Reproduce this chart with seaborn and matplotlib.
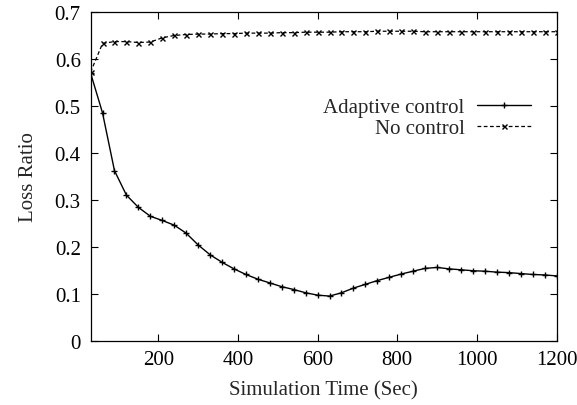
import matplotlib
matplotlib.use("Agg")
import matplotlib.pyplot as plt
import seaborn as sns
import pandas as pd

time_sec = list(range(30, 1201, 30))
adaptive = [0.570, 0.485, 0.362, 0.310, 0.284, 0.265, 0.256, 0.246, 0.229, 0.204,
            0.183, 0.167, 0.153, 0.141, 0.131, 0.123, 0.115, 0.109, 0.102, 0.097,
            0.095, 0.102, 0.112, 0.120, 0.128, 0.135, 0.142, 0.148, 0.154, 0.156,
            0.153, 0.151, 0.149, 0.148, 0.146, 0.145, 0.143, 0.141, 0.140, 0.138]
no_control = [0.572, 0.633, 0.637, 0.637, 0.635, 0.636, 0.645, 0.650, 0.652, 0.653,
              0.653, 0.654, 0.654, 0.655, 0.655, 0.655, 0.656, 0.656, 0.657, 0.657,
              0.657, 0.658, 0.658, 0.658, 0.659, 0.659, 0.659, 0.659, 0.658, 0.658,
              0.658, 0.658, 0.658, 0.658, 0.658, 0.658, 0.658, 0.658, 0.658, 0.658]
series_names = ["Adaptive control", "No control"]
x_ticks = [200, 400, 600, 800, 1000, 1200]
y_ticks = [0, 0.1, 0.2, 0.3, 0.4, 0.5, 0.6, 0.7]
y_tick_labels = ["0", "0.1", "0.2", "0.3", "0.4", "0.5", "0.6", "0.7"]

sns.set_style("ticks")
plt.rcParams["font.family"] = ["Liberation Serif", "DejaVu Serif"]

df = pd.DataFrame({
    "t": time_sec * 2,
    "v": adaptive + no_control,
    "series": [series_names[0]] * len(time_sec) + [series_names[1]] * len(time_sec),
})

fig = plt.figure(figsize=(5.77, 4.06), dpi=100)
ax = fig.add_axes([0.157, 0.1584, 0.8075, 0.8096])

sns.lineplot(data=df, x="t", y="v", hue="series", style="series", ax=ax,
             palette={series_names[0]: "black", series_names[1]: "black"},
             markers={series_names[0]: "+", series_names[1]: "x"},
             dashes={series_names[0]: "", series_names[1]: (3, 2)},
             linewidth=1.0, markersize=4.5, markeredgewidth=1.0,
             markeredgecolor="black")

for ln in ax.get_lines():
    if ln.get_marker() == "x":
        ln.set_markersize(3.6)
        ln.set_linewidth(0.9)

ax.set_xlim(30, 1200)
ax.set_ylim(0, 0.7)
ax.set_xticks(x_ticks)
ax.set_yticks(y_ticks)
ax.set_yticklabels(y_tick_labels)
ax.tick_params(direction="in", length=5, width=0.8, top=True, right=True,
               labelsize=15, colors="black", pad=7)
for s in ax.spines.values():
    s.set_visible(True)
    s.set_linewidth(0.9)
    s.set_color("black")

ax.set_xlabel("Simulation Time (Sec)", fontsize=15, labelpad=8)
ax.set_ylabel("Loss Ratio", fontsize=15, labelpad=12)

handles, labels = ax.get_legend_handles_labels()
leg = ax.legend(handles, labels, loc="upper right", bbox_to_anchor=(0.9636, 0.764),
                frameon=False, markerfirst=False, fontsize=15, handlelength=2.6,
                handletextpad=0.6, labelspacing=0.05, numpoints=1, borderaxespad=0)
for h in leg.legend_handles:
    h.set_color("black")
    h.set_markeredgecolor("black")

fig.savefig("out.png", dpi=100)
